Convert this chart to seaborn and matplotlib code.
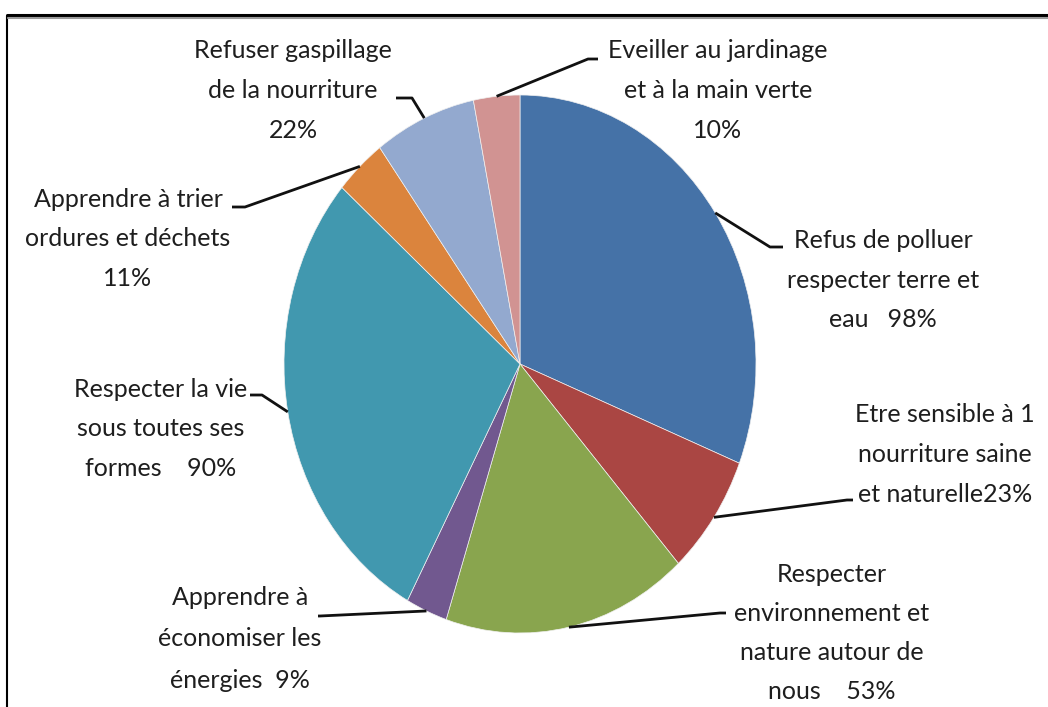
import matplotlib
matplotlib.use("Agg")
import matplotlib.pyplot as plt
import seaborn as sns
import numpy as np
from matplotlib import font_manager

labels = [
    "Refus de polluer\nrespecter terre et\neau   98%",
    "Etre sensible à 1\nnourriture saine\net naturelle23%",
    "Respecter\nenvironnement et\nnature autour de\nnous    53%",
    "Apprendre à\néconomiser les\nénergies  9%",
    "Respecter la vie\nsous toutes ses\nformes    90%",
    "Apprendre à trier\nordures et déchets\n11%",
    "Refuser gaspillage\nde la nourriture\n22%",
    "Eveiller au jardinage\net à la main verte\n10%",
]
values = [98, 23, 53, 9, 90, 11, 22, 10]
colors = ["#4572A7", "#AA4643", "#89A54E", "#71588F",
          "#4198AF", "#DB843D", "#93A9CF", "#D19392"]

sns.set_theme(style="white")
names = {f.name for f in font_manager.fontManager.ttflist}
if "Liberation Sans Narrow" in names:
    font, fsize = "Liberation Sans Narrow", 20
else:
    font, fsize = "Lato", 18
plt.rcParams["font.family"] = [font, "DejaVu Sans"]

W, H = 1048, 707
cx, cy, rx, ry = 520, 364, 236, 269   # pie centre / radii in image pixels


def to_data(x, y):
    return (x - cx) / rx, (cy - y) / ry


fig = plt.figure(figsize=(W / 100, H / 100), dpi=100)
ax = fig.add_axes([0, 0, 1, 1])
wedges, _ = ax.pie(values, colors=colors, startangle=90, counterclock=False,
                   radius=1, center=(0, 0),
                   wedgeprops=dict(edgecolor="#f0f0f0", linewidth=0.5))
ax.set_aspect("auto")
ax.set_xlim(-cx / rx, (W - cx) / rx)
ax.set_ylim(-(H - cy) / ry, cy / ry)
ax.axis("off")

# label layout (image pixels): centre x, first baseline, line step
text_pos = [
    (883, 248, 39.5),
    (945, 422, 40),
    (832, 582, 39),
    (240, 605, 41.5),
    (161, 397, 39.5),
    (128, 207, 39.5),
    (293, 58, 40),
    (718, 58, 40),
]
# leader lines: elbow point then end point (image pixels)
leaders = [
    [(770, 247), (783, 247)],
    [(847, 500), (853, 500)],
    [(720, 613), (726, 613)],
    [(320, 616), (318, 616)],
    [(262, 395), (250, 395)],
    [(245, 207), (232, 207)],
    [(412, 98), (396, 98)],
    [(588, 59), (598, 59)],
]

for w, lab, (tx, ty, step), pts in zip(wedges, labels, text_pos, leaders):
    mid = np.deg2rad((w.theta1 + w.theta2) / 2)
    xs = [np.cos(mid)] + [to_data(*p)[0] for p in pts]
    ys = [np.sin(mid)] + [to_data(*p)[1] for p in pts]
    ax.plot(xs, ys, color="#111111", lw=2, solid_capstyle="butt", clip_on=False)
    for i, line in enumerate(lab.split("\n")):
        x, y = to_data(tx, ty + i * step)
        ax.text(x, y, line, ha="center", va="baseline", fontsize=fsize,
                color="#1e1e1e")

# picture frame (top and left edges)
ax.plot([to_data(7, 16)[0]] * 2, [to_data(7, 16)[1], to_data(7, H)[1]],
        color="black", lw=1.5, clip_on=False)
ax.plot([to_data(7, 15)[0], to_data(W, 15)[0]], [to_data(7, 15)[1]] * 2,
        color="black", lw=2.2, clip_on=False)
ax.plot([to_data(8, 17.5)[0], to_data(W, 17.5)[0]], [to_data(8, 17.5)[1]] * 2,
        color="#9a9a9a", lw=1.5, clip_on=False)

fig.savefig("out.png", dpi=100)
